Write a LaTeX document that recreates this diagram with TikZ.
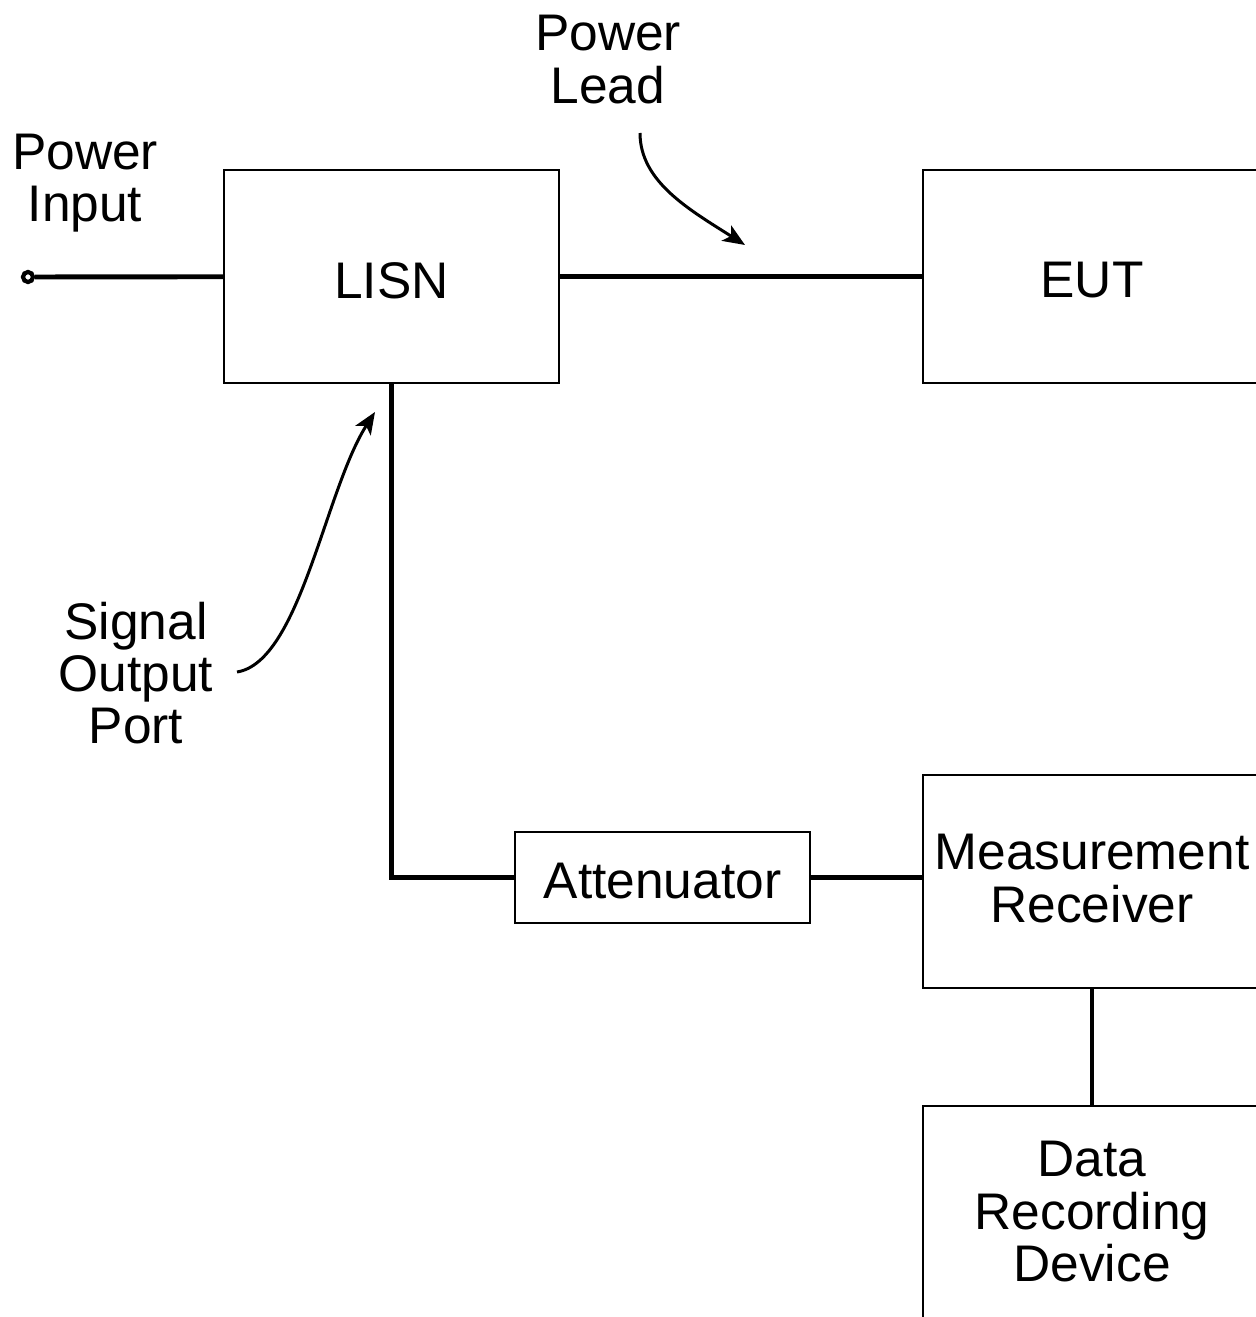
\documentclass[tikz,border=0pt]{standalone}
\usepackage{fontspec}
\setmainfont{Liberation Sans}
\usetikzlibrary{arrows.meta}

\begin{document}
\begin{tikzpicture}[x=0.02cm,y=-0.02cm,
  every node/.style={font=\fontsize{29.3}{29.6}\selectfont},
  unit/.style={draw, rectangle, line width=1.1pt, minimum width=6.7cm, minimum height=4.26cm},
  intext/.style={yshift=-2.2pt},
  wire/.style={line width=2.8pt},
  pointer/.style={line width=1.7pt, -{Stealth[length=4.4mm,width=3.6mm,inset=1.1mm]}}]
 \useasboundingbox (0,0) rectangle (1256,1317);
 \clip (0,0) rectangle (1256,1317);

 \node (lisn) [unit, label={[intext]center:LISN}] at (391.5,276.5) {};
 \node (eut) [unit, minimum width=6.76cm, label={[intext]center:EUT}] at (1092,276.5) {};
 \node (att) [draw, rectangle, line width=1.1pt, minimum width=5.9cm, minimum height=1.82cm, label={[intext]center:Attenuator}] at (662.5,877.5) {};
 \node (meas) [unit, minimum width=6.76cm, label={[intext]center:{\begin{tabular}{@{}c@{}}Measurement\\ Receiver\end{tabular}}}] at (1092,881.5) {};
 \node (data) [unit, minimum width=6.76cm, label={[yshift=-3.5pt]center:{\begin{tabular}{@{}c@{}}Data\\ Recording\\ Device\end{tabular}}}] at (1092,1212.5) {};
 \node (pin) [draw, circle, line width=2.4pt, inner sep=0pt, minimum size=0.2cm] at (28,277) {};

 \node (pwrin) [] at (85,185) {\begin{tabular}{@{}c@{}}Power\\ Input\end{tabular}};
 \node (pwrlead) [] at (608,67) {\begin{tabular}{@{}c@{}}Power\\ Lead\end{tabular}};
 \node (sigport) [] at (136,681) {\begin{tabular}{@{}c@{}}Signal\\ Output\\ Port\end{tabular}};
 \coordinate (leadtail) at (640,133);
 \coordinate (leadtip) at (745,245);
 \coordinate (porttail) at (237,672);
 \coordinate (porttip) at (375,412);

 \draw[wire] (pin) -- (lisn);
 \draw[wire] (lisn) -- (eut);
 \draw[wire] (lisn.south) |- (att.west);
 \draw[wire] (att.east) -- (att.east -| meas.west);
 \draw[wire] (meas) -- (data);

 \draw[pointer] (leadtail) .. controls (640,182) and (690,210) .. (leadtip);
 \draw[pointer] (porttail) .. controls (300,662) and (325,490) .. (porttip);
\end{tikzpicture}
\end{document}
